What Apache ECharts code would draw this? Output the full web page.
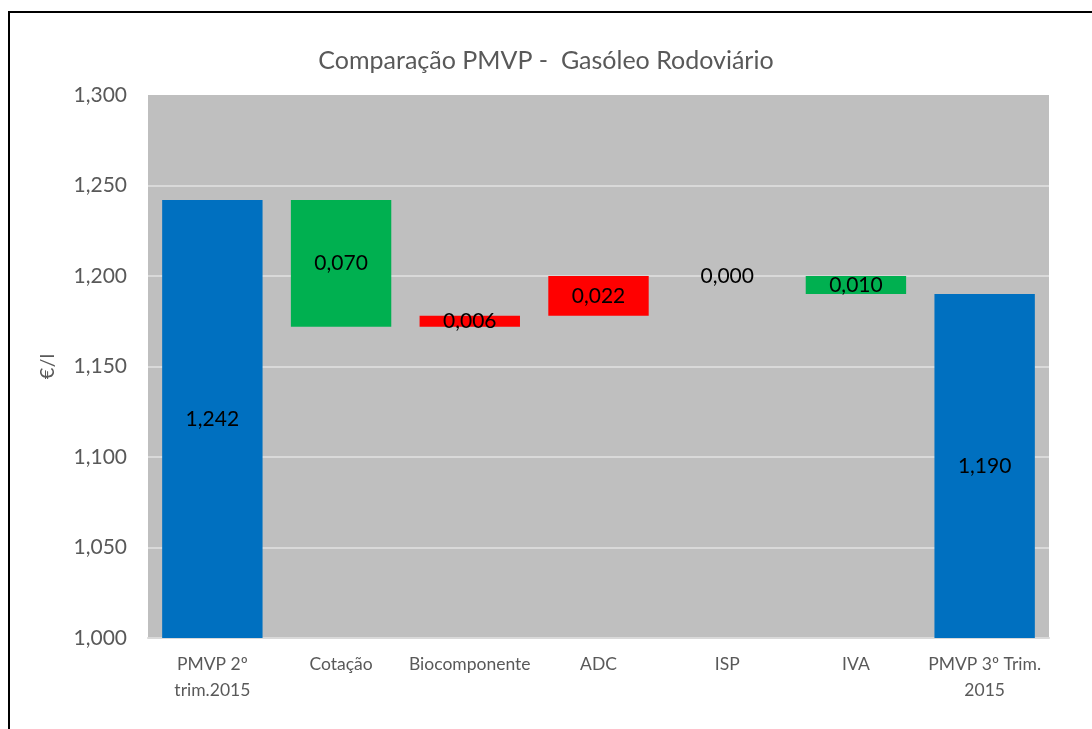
<!DOCTYPE html>
<html>
<head>
<meta charset="utf-8">
<script src="https://cdn.jsdelivr.net/npm/echarts@6/dist/echarts.min.js"></script>
<style>
  html, body { margin: 0; padding: 0; background: #fff; }
  #chart { width: 1092px; height: 729px; }
</style>
</head>
<body>
<div id="chart"></div>
<script>
const categories = ['PMVP 2º\ntrim.2015', 'Cotação', 'Biocomponente', 'ADC', 'ISP', 'IVA', 'PMVP 3º Trim.\n2015']
// invisible base under each floating bar
const baseValues = [0, 1.172, 1.172, 1.178, 1.200, 1.190, 0]
// visible part (height of each bar)
const deltaValues = [1.242, 0.070, 0.006, 0.022, 0.000, 0.010, 1.190]
const barColors = ['#0070C0', '#00B050', '#FF0000', '#FF0000', '#FF0000', '#00B050', '#0070C0']
const yTicks = [1.000, 1.050, 1.100, 1.150, 1.200, 1.250, 1.300]

const fmt = v => v.toFixed(3).replace('.', ',')
const font = 'Lato, "Open Sans", sans-serif'

const chart = echarts.init(document.getElementById('chart'))

// no gridline on the top edge of the plot area
const splitColors = yTicks.map((t, i) => i === yTicks.length - 1 ? 'transparent' : '#D9D9D9')

chart.setOption({
  backgroundColor: '#fff',
  animation: false,
  textStyle: { fontFamily: font },
  title: {
    text: 'Comparação PMVP -  Gasóleo Rodoviário',
    left: 'center',
    top: 43,
    textStyle: { color: '#595959', fontSize: 25, fontWeight: 'normal', fontFamily: font }
  },
  graphic: [{
    type: 'rect',
    shape: { x: 9, y: 12, width: 1200, height: 800 },
    style: { fill: 'none', stroke: '#000', lineWidth: 2 },
    silent: true
  }],
  grid: { left: 148, right: 43, top: 95, bottom: 91, show: true, backgroundColor: '#BFBFBF', borderWidth: 0 },
  xAxis: {
    type: 'category',
    data: categories,
    axisTick: { show: false },
    axisLine: { lineStyle: { color: '#D9D9D9', width: 2 } },
    axisLabel: { color: '#595959', fontSize: 17.5, lineHeight: 26, margin: 13, interval: 0 }
  },
  yAxis: {
    type: 'value',
    min: yTicks[0],
    max: yTicks[yTicks.length - 1],
    interval: 0.05,
    name: '€/l',
    nameLocation: 'middle',
    nameGap: 90,
    nameTextStyle: { color: '#595959', fontSize: 20 },
    axisLine: { show: false },
    axisTick: { show: false },
    splitLine: { lineStyle: { color: splitColors, width: 2 } },
    axisLabel: { color: '#595959', fontSize: 21, margin: 21, formatter: v => fmt(v) }
  },
  series: [
    {
      name: 'base',
      type: 'bar',
      stack: 'wf',
      data: baseValues,
      barWidth: '78%',
      itemStyle: { color: 'transparent' },
      silent: true
    },
    {
      name: 'delta',
      type: 'bar',
      stack: 'wf',
      barWidth: '78%',
      data: deltaValues.map((v, i) => ({ value: v, itemStyle: { color: barColors[i] } })),
      label: {
        show: true,
        position: 'inside',
        color: '#000',
        fontSize: 21,
        formatter: p => fmt(p.value)
      }
    }
  ]
})
</script>
</body>
</html>
